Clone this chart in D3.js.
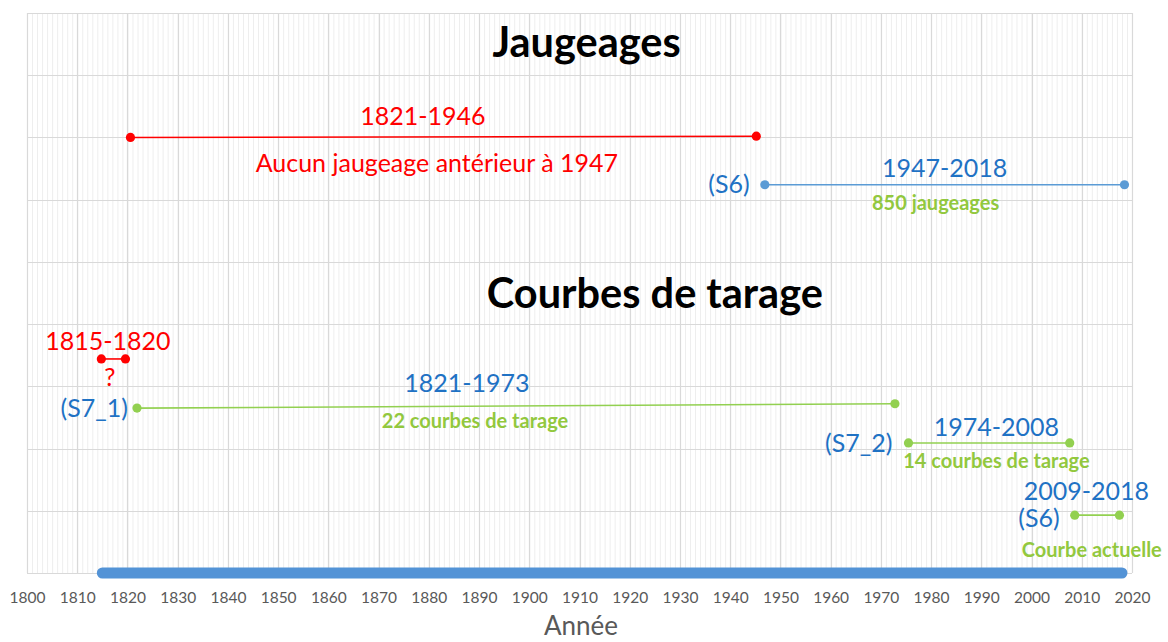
<!DOCTYPE html>
<html>
<head>
<meta charset="utf-8">
<script src="https://cdn.jsdelivr.net/npm/d3@7"></script>
<style>
  html, body { margin: 0; padding: 0; background: #fff; }
  svg { display: block; font-family: Lato, "Open Sans", sans-serif; }
  .tick-lbl { fill: #595959; font-size: 15.5px; }
  .range { font-size: 25px; }
  .note { font-size: 20px; font-weight: bold; fill: #92c83e; }
  .title { font-size: 41.5px; font-weight: bold; fill: #000; }
</style>
</head>
<body>
<script>
// Timeline of gaugings and rating curves (jaugeages / courbes de tarage)
var tickYears = d3.range(1800, 2021, 10);
var segName   = ['1821-1946', '1947-2018', '1815-1820', '1821-1973', '1974-2008', '2009-2018'];
var segStart  = [1820.6, 1946.9, 1814.8, 1821.9, 1975.5, 2008.6];
var segEnd    = [1945.2, 2018.5, 1819.6, 1972.8, 2007.6, 2017.5];
var segLvlA   = [7.00, 6.24, 3.44, 2.65, 2.09, 0.93];
var segLvlB   = [7.02, 6.24, 3.44, 2.72, 2.09, 0.93];
var segColor  = ['#ff0000', '#5b9bd5', '#ff0000', '#92d050', '#92d050', '#92d050'];
// continuous record, bottom bar
var recordStart = 1815, recordEnd = 2018;

var W = 1168, H = 642;
var x = d3.scaleLinear().domain([1800, 2020]).range([27, 1132]);
var y = d3.scaleLinear().domain([0, 9]).range([573, 13]);

var svg = d3.select('body').append('svg').attr('width', W).attr('height', H);

// minor (yearly) grid
svg.append('g').selectAll('line').data(d3.range(1800, 2021))
  .enter().append('line')
  .attr('x1', function (d) { return x(d) + 0.5; }).attr('x2', function (d) { return x(d) + 0.5; })
  .attr('y1', y(9)).attr('y2', y(0))
  .attr('stroke', '#eeeeee').attr('stroke-width', 1);

// horizontal grid
svg.append('g').selectAll('line').data(d3.range(0, 10))
  .enter().append('line')
  .attr('x1', x(1800)).attr('x2', x(2020))
  .attr('y1', function (d) { return Math.round(y(d)) + 0.5; })
  .attr('y2', function (d) { return Math.round(y(d)) + 0.5; })
  .attr('stroke', '#d9d9d9').attr('stroke-width', 1);

// major (decade) grid
svg.append('g').selectAll('line').data(tickYears)
  .enter().append('line')
  .attr('x1', function (d) { return Math.round(x(d)) + 0.5; })
  .attr('x2', function (d) { return Math.round(x(d)) + 0.5; })
  .attr('y1', y(9)).attr('y2', y(0))
  .attr('stroke', '#d9d9d9').attr('stroke-width', 1.2);

// x axis labels
var axis = d3.axisBottom(x).tickValues(tickYears).tickFormat(d3.format('d')).tickSize(0).tickPadding(19);
var ax = svg.append('g').attr('transform', 'translate(0,' + y(0) + ')').call(axis);
ax.select('.domain').remove();
ax.selectAll('text').attr('class', 'tick-lbl').attr('fill', null).style('font-family', 'Lato, "Open Sans", sans-serif');

svg.append('text').attr('x', 581).attr('y', 635).attr('text-anchor', 'middle')
  .attr('fill', '#595959').style('font-size', '26px').text('Année');

// bottom record bar
svg.append('line')
  .attr('x1', x(recordStart)).attr('x2', x(recordEnd))
  .attr('y1', y(0)).attr('y2', y(0))
  .attr('stroke', '#5393d6').attr('stroke-width', 11).attr('stroke-linecap', 'round');

// segments
var segs = segName.map(function (n, i) {
  return { name: n, a: segStart[i], b: segEnd[i], la: segLvlA[i], lb: segLvlB[i], c: segColor[i] };
});
var sg = svg.append('g').selectAll('g').data(segs).enter().append('g');
sg.append('line')
  .attr('x1', function (d) { return x(d.a); }).attr('x2', function (d) { return x(d.b); })
  .attr('y1', function (d) { return y(d.la); }).attr('y2', function (d) { return y(d.lb); })
  .attr('stroke', function (d) { return d.c; }).attr('stroke-width', 1.6);
sg.append('circle').attr('r', 4.6)
  .attr('cx', function (d) { return x(d.a); }).attr('cy', function (d) { return y(d.la); })
  .attr('fill', function (d) { return d.c; });
sg.append('circle').attr('r', 4.6)
  .attr('cx', function (d) { return x(d.b); }).attr('cy', function (d) { return y(d.lb); })
  .attr('fill', function (d) { return d.c; });

// annotations (data coords: year, level)
var RED = '#ff0000', BLUE = '#1f72c4';
var notes = [
  { t: 'Jaugeages', x: 1911.4, y: 8.29, cls: 'title' },
  { t: 'Courbes de tarage', x: 1925.0, y: 4.26, cls: 'title' },
  { t: '1821-1946', x: 1878.8, y: 7.20, cls: 'range', c: RED },
  { t: 'Aucun jaugeage antérieur à 1947', x: 1881.6, y: 6.45, cls: 'range', c: RED },
  { t: '(S6)', x: 1943.9, y: 6.11, cls: 'range', c: BLUE, a: 'end' },
  { t: '1947-2018', x: 1982.7, y: 6.36, cls: 'range', c: BLUE },
  { t: '850 jaugeages', x: 1980.9, y: 5.83, cls: 'note' },
  { t: '1815-1820', x: 1816.1, y: 3.58, cls: 'range', c: RED },
  { t: '?', x: 1816.5, y: 3.01, cls: 'range', c: RED },
  { t: '(S7_1)', x: 1820.1, y: 2.51, cls: 'range', c: BLUE, a: 'end' },
  { t: '1821-1973', x: 1887.6, y: 2.91, cls: 'range', c: BLUE },
  { t: '22 courbes de tarage', x: 1889.2, y: 2.33, cls: 'note' },
  { t: '(S7_2)', x: 1972.3, y: 1.94, cls: 'range', c: BLUE, a: 'end' },
  { t: '1974-2008', x: 1993.0, y: 2.20, cls: 'range', c: BLUE },
  { t: '14 courbes de tarage', x: 1993.0, y: 1.69, cls: 'note' },
  { t: '2009-2018', x: 2010.9, y: 1.17, cls: 'range', c: BLUE },
  { t: '(S6)', x: 2005.6, y: 0.74, cls: 'range', c: BLUE, a: 'end' },
  { t: 'Courbe actuelle', x: 2012.0, y: 0.26, cls: 'note' }
];
svg.append('g').selectAll('text').data(notes).enter().append('text')
  .attr('class', function (d) { return d.cls; })
  .attr('x', function (d) { return x(d.x); })
  .attr('y', function (d) { return y(d.y); })
  .attr('text-anchor', function (d) { return d.a || 'middle'; })
  .style('fill', function (d) { return d.c || null; })
  .text(function (d) { return d.t; });
</script>
</body>
</html>
